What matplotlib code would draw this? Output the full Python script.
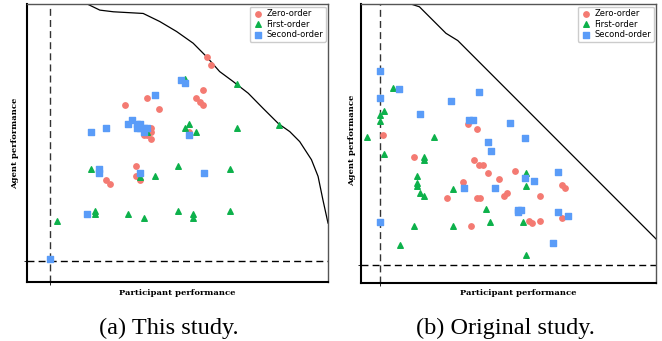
import numpy as np
import matplotlib
matplotlib.use("Agg")
import matplotlib.pyplot as plt

# colours of the three groups
RED = '#F47A72'
GREEN = '#0DB14B'
BLUE = '#5A9CF8'

# ---- (a) This study ----
a_zero_x = [59.8, 61.1, 58.6, 56.2, 57.4, 58.6, 39.9, 32.5, 43.8, 41.2, 41.2, 38.8, 39.9,
            41.2, 53.7, 36.2, 36.2, 37.5, 26.2, 27.5]
a_zero_y = [80.8, 78.2, 68.9, 66.1, 64.9, 63.5, 66.1, 63.5, 62.2, 55.3, 54.1, 52.7, 52.7,
            51.4, 54.0, 41.9, 38.0, 36.6, 36.6, 35.3]
a_first_x = [52.4, 69.9, 83.6, 69.9, 53.8, 52.4, 56.2, 40.0, 21.2, 37.5, 42.5, 50.0, 67.4,
             22.6, 22.6, 10.1, 33.7, 38.8, 50.0, 55.0, 55.0, 67.4]
a_first_y = [73.1, 71.3, 56.5, 55.3, 56.8, 55.3, 54.0, 53.8, 40.6, 37.7, 38.0, 41.9, 40.6,
             25.7, 24.4, 21.8, 24.4, 23.0, 25.7, 24.4, 23.0, 25.7]
a_second_x = [51.3, 52.4, 42.5, 34.9, 33.7, 36.4, 37.5, 36.4, 37.5, 38.8, 40.0, 38.8, 26.2,
              21.2, 53.7, 23.8, 23.8, 37.5, 58.7, 20.0, 7.6]
a_second_y = [72.7, 71.5, 67.4, 58.1, 56.8, 56.8, 56.8, 55.3, 55.3, 55.3, 55.3, 54.0, 55.3,
              54.0, 52.7, 40.6, 39.3, 39.3, 39.3, 24.4, 8.4]
a_front_x = [20.0, 24.2, 28.7, 38.6, 44.1, 49.7, 55.2, 59.6, 64.0, 68.5, 73.5, 78.4, 83.6,
             87.3, 90.6, 94.5, 96.7, 98.3, 100.0]
a_front_y = [100.0, 97.8, 97.2, 96.6, 93.7, 90.1, 85.9, 81.1, 75.7, 72.1, 67.9, 62.5, 56.9,
             54.1, 50.5, 44.0, 38.0, 29.6, 21.2]
a_base_x, a_base_y = 7.6, 7.7

# ---- (b) Original study ----
b_zero_x = [36.4, 39.2, 7.6, 17.9, 38.4, 40.1, 41.2, 42.9, 46.8, 52.2, 34.6, 29.0, 39.2,
            40.2, 48.6, 49.5, 60.7, 68.1, 69.3, 56.9, 57.9, 60.7, 68.1, 37.4]
b_zero_y = [57.0, 55.1, 53.1, 45.2, 44.2, 42.2, 42.2, 39.3, 37.2, 40.1, 36.3, 30.3, 30.3,
            30.3, 31.3, 32.2, 31.3, 35.3, 34.2, 22.4, 21.4, 22.3, 23.4, 20.3]
b_first_x = [11.0, 7.7, 6.6, 6.6, 2.1, 24.6, 7.7, 21.2, 21.2, 19.0, 19.0, 19.0, 20.1, 21.2,
             31.3, 56.0, 56.0, 42.4, 43.6, 54.8, 31.3, 17.9, 13.3, 56.0]
b_first_y = [69.8, 61.7, 60.3, 58.2, 52.4, 52.4, 46.4, 45.2, 44.2, 38.2, 35.8, 34.8, 32.3,
             31.3, 33.7, 39.5, 34.7, 26.6, 21.8, 21.7, 20.6, 20.6, 13.7, 10.1]
b_second_x = [6.6, 13.0, 6.6, 20.1, 30.6, 40.0, 36.6, 37.9, 50.4, 55.5, 43.2, 44.2, 34.8,
              45.3, 55.6, 58.8, 66.9, 6.6, 53.3, 54.1, 53.1, 66.9, 70.3, 65.0]
b_second_y = [76.1, 69.6, 66.2, 60.6, 65.2, 68.5, 58.5, 58.5, 57.3, 51.8, 50.7, 47.4, 34.1,
              34.1, 37.5, 36.4, 39.7, 21.8, 26.0, 26.3, 25.4, 25.3, 24.1, 14.2]
b_front_x = [16.9, 19.8, 28.8, 32.8, 100.0]
b_front_y = [100.0, 99.0, 89.5, 86.9, 15.8]
b_base_x, b_base_y = 6.6, 6.3

panels = [
    dict(rect=[27 / 662, 1 - 282 / 341, 301 / 662, 278 / 341],
         zero=(a_zero_x, a_zero_y), first=(a_first_x, a_first_y),
         second=(a_second_x, a_second_y), front=(a_front_x, a_front_y),
         base=(a_base_x, a_base_y),
         xlab_x=177, ylab_x=15, ylab_y=143, cap_x=169, cap='(a) This study.'),
    dict(rect=[361 / 662, 1 - 283 / 341, 295 / 662, 279 / 341],
         zero=(b_zero_x, b_zero_y), first=(b_first_x, b_first_y),
         second=(b_second_x, b_second_y), front=(b_front_x, b_front_y),
         base=(b_base_x, b_base_y),
         xlab_x=518, ylab_x=352, ylab_y=140, cap_x=505, cap='(b) Original study.'),
]

fig = plt.figure(figsize=(6.62, 3.41), dpi=100)

for p in panels:
    ax = fig.add_axes(p['rect'])
    ax.plot(p['front'][0], p['front'][1], color='black', lw=0.9, zorder=2)
    ax.axvline(p['base'][0], color='#333333', ls=(0, (5, 3)), lw=1.0, zorder=1)
    ax.axhline(p['base'][1], color='black', ls=(0, (5, 3)), lw=1.0, zorder=1)
    ax.scatter(p['zero'][0], p['zero'][1], s=15, marker='o', color=RED,
               label='Zero-order', zorder=3)
    ax.scatter(p['first'][0], p['first'][1], s=16, marker='^', color=GREEN,
               label='First-order', zorder=3)
    ax.scatter(p['second'][0], p['second'][1], s=17, marker='s', color=BLUE,
               label='Second-order', zorder=3)
    ax.set_xlim(0, 100)
    ax.set_ylim(0, 100)
    ax.set_xticks([p['base'][0]])
    ax.set_yticks([p['base'][1]])
    ax.set_xticklabels([])
    ax.set_yticklabels([])
    ax.tick_params(length=2.5, width=0.6)
    for side in ['left', 'bottom']:
        ax.spines[side].set_linewidth(1.5)
        ax.spines[side].set_color('black')
    for side in ['top', 'right']:
        ax.spines[side].set_linewidth(1.0)
        ax.spines[side].set_color('#555555')
    ax.legend(loc='upper right', fontsize=6, borderaxespad=0.3,
              handletextpad=0.2, borderpad=0.3, labelspacing=0.2,
              handlelength=1.5, framealpha=1.0, fancybox=True)

    fig.text(p['xlab_x'] / 662, 1 - 293 / 341, 'Participant performance',
             family='DejaVu Serif', weight='bold', fontsize=6,
             ha='center', va='center')
    fig.text(p['ylab_x'] / 662, 1 - p['ylab_y'] / 341, 'Agent performance',
             family='DejaVu Serif', weight='bold', fontsize=6,
             ha='center', va='center', rotation=90)
    fig.text(p['cap_x'] / 662, 1 - 328 / 341, p['cap'],
             family='Liberation Serif', fontsize=17.5,
             ha='center', va='center')

fig.savefig('out.png', dpi=100)
